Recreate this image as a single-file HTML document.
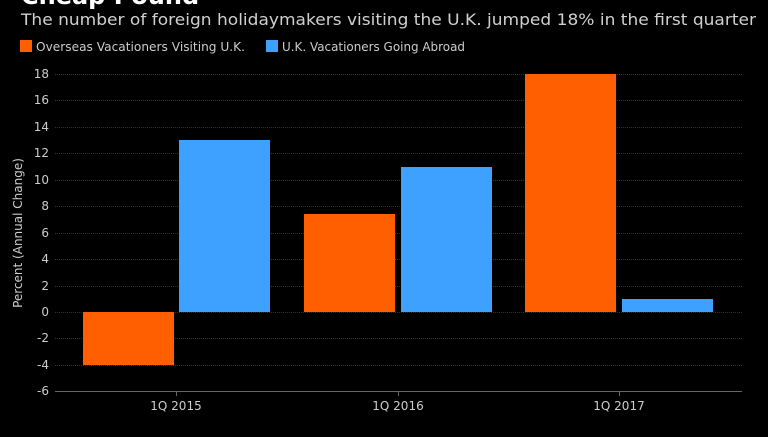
<!DOCTYPE html>
<html><head><style>
body{margin:0;background:#000;width:768px;height:432px;overflow:hidden;font-family:"Liberation Sans",sans-serif}
</style></head><body>
<svg width="768" height="432" xmlns="http://www.w3.org/2000/svg" font-family="DejaVu Sans, Liberation Sans, sans-serif">
<rect width="768" height="432" fill="#000"/>
<text x="21" y="4" font-size="24" font-weight="bold" fill="#fff">Cheap Pound</text>
<text x="21" y="25" font-size="16" fill="#d0d0d0" textLength="735" lengthAdjust="spacingAndGlyphs">The number of foreign holidaymakers visiting the U.K. jumped 18% in the first quarter</text>
<rect x="20" y="40" width="12" height="12" fill="#ff5f00"/>
<text x="36" y="51" font-size="12" fill="#ccc" textLength="209" lengthAdjust="spacingAndGlyphs">Overseas Vacationers Visiting U.K.</text>
<rect x="266" y="40" width="12" height="12" fill="#3ea1ff"/>
<text x="282" y="51" font-size="12" fill="#ccc" textLength="183" lengthAdjust="spacingAndGlyphs">U.K. Vacationers Going Abroad</text>
<g stroke="#333" stroke-width="1" stroke-dasharray="1,1">
<line x1="55" x2="742" y1="74.5" y2="74.5"/><line x1="55" x2="742" y1="100.5" y2="100.5"/>
<line x1="55" x2="742" y1="127.5" y2="127.5"/><line x1="55" x2="742" y1="153.5" y2="153.5"/>
<line x1="55" x2="742" y1="180.5" y2="180.5"/><line x1="55" x2="742" y1="206.5" y2="206.5"/>
<line x1="55" x2="742" y1="233.5" y2="233.5"/><line x1="55" x2="742" y1="259.5" y2="259.5"/>
<line x1="55" x2="742" y1="286.5" y2="286.5"/><line x1="55" x2="742" y1="312.5" y2="312.5"/>
<line x1="55" x2="742" y1="338.5" y2="338.5"/><line x1="55" x2="742" y1="365.5" y2="365.5"/>
</g>
<line x1="55" x2="742" y1="391.5" y2="391.5" stroke="#666"/>
<g stroke="#666"><line x1="176.5" x2="176.5" y1="391" y2="396"/><line x1="398.5" x2="398.5" y1="391" y2="396"/><line x1="619.5" x2="619.5" y1="391" y2="396"/></g>
<g font-size="12" fill="#ccc" text-anchor="end">
<text x="49" y="78">18</text><text x="49" y="104">16</text><text x="49" y="131">14</text>
<text x="49" y="157">12</text><text x="49" y="184">10</text><text x="49" y="210">8</text>
<text x="49" y="237">6</text><text x="49" y="263">4</text><text x="49" y="290">2</text>
<text x="49" y="316">0</text><text x="49" y="342">-2</text><text x="49" y="369">-4</text><text x="49" y="395">-6</text>
</g>
<text transform="translate(22,233) rotate(-90)" font-size="12" fill="#ccc" text-anchor="middle">Percent (Annual Change)</text>
<g font-size="12" fill="#ccc" text-anchor="middle">
<text x="176" y="410">1Q 2015</text><text x="398" y="410">1Q 2016</text><text x="619" y="410">1Q 2017</text>
</g>
<g fill="#ff5f00">
<rect x="83" y="312" width="91" height="53"/>
<rect x="304" y="214" width="91" height="98"/>
<rect x="525" y="74" width="91" height="238"/>
</g>
<g fill="#3ea1ff">
<rect x="179" y="140" width="91" height="172"/>
<rect x="401" y="167" width="91" height="145"/>
<rect x="622" y="299" width="91" height="13"/>
</g>
</svg>
</body></html>
